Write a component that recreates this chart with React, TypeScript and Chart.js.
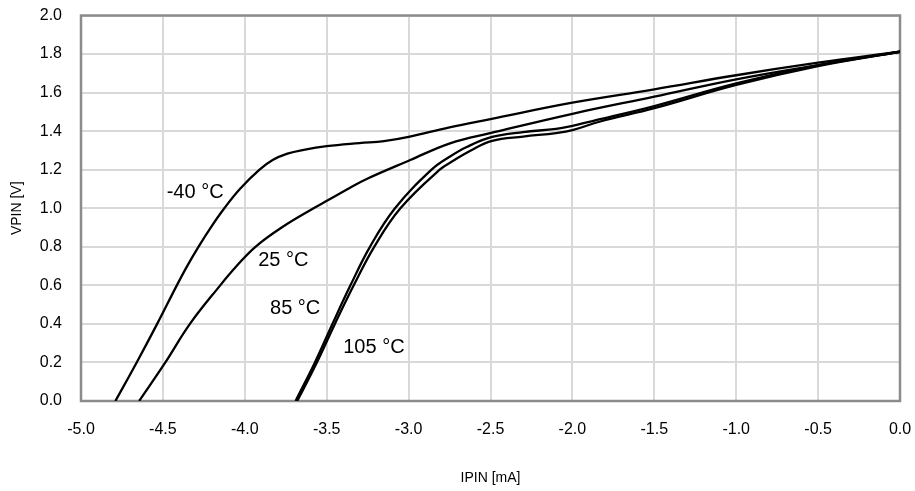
import React, { useEffect, useRef } from "react";
import { Chart, registerables } from "chart.js";

Chart.register(...registerables);

// Series names (temperatures)
const seriesNames = ["-40 °C", "25 °C", "85 °C", "105 °C"];

// IPIN [mA] / VPIN [V] per temperature
const ipinM40 = [-4.79, -4.66, -4.535, -4.415, -4.352, -4.283, -4.208, -4.125, -4.03, -3.91, -3.83, -3.74, -3.64, -3.5, -3.3, -3.15, -3.0, -2.75, -2.5, -2.0, -1.5, -1.0, -0.5, 0.0];
const vpinM40 = [0.0, 0.2, 0.4, 0.6, 0.7, 0.8, 0.9, 1.0, 1.1, 1.2, 1.25, 1.283, 1.303, 1.322, 1.338, 1.348, 1.37, 1.42, 1.463, 1.548, 1.617, 1.69, 1.755, 1.812];

const ipin25 = [-4.645, -4.485, -4.335, -4.15, -4.05, -3.935, -3.775, -3.58, -3.496, -3.36, -3.256, -2.99, -2.747, -2.49, -2.0, -1.5, -1.0, -0.5, 0.0];
const vpin25 = [0.0, 0.2, 0.4, 0.6, 0.7, 0.8, 0.9, 1.0, 1.04, 1.105, 1.152, 1.25, 1.337, 1.392, 1.49, 1.579, 1.669, 1.743, 1.812];

const ipin85 = [-3.69, -3.572, -3.465, -3.355, -3.236, -3.083, -2.86, -2.75, -2.645, -2.49, -2.3, -2.1, -2.0, -1.83, -1.5, -1.0, -0.5, 0.0];
const vpin85 = [0.0, 0.2, 0.4, 0.6, 0.8, 1.0, 1.2, 1.267, 1.318, 1.37, 1.395, 1.412, 1.428, 1.462, 1.53, 1.648, 1.742, 1.812];

const ipin105 = [-3.68, -3.56, -3.45, -3.335, -3.21, -3.05, -2.81, -2.72, -2.62, -2.49, -2.3, -2.1, -2.0, -1.83, -1.5, -1.0, -0.5, 0.0];
const vpin105 = [0.0, 0.2, 0.4, 0.6, 0.8, 1.0, 1.2, 1.25, 1.3, 1.35, 1.372, 1.39, 1.405, 1.45, 1.519, 1.64, 1.738, 1.812];

// Axis ranges / ticks
const xMin = -5.0;
const xMax = 0.0;
const xStep = 0.5;
const yMin = 0.0;
const yMax = 2.0;
const yStep = 0.2;

const xTitle = "IPIN [mA]";
const yTitle = "VPIN [V]";

// Where each curve's annotation text is anchored (data coordinates, left-middle of text)
const labelAnchors = [
  { x: -4.477, y: 1.081 },
  { x: -3.918, y: 0.728 },
  { x: -3.846, y: 0.481 },
  { x: -3.399, y: 0.279 },
];

const FONT = "'Liberation Sans', Arial, Helvetica, sans-serif";

const toPoints = (xs: number[], ys: number[]) => xs.map((x, i) => ({ x, y: ys[i] }));

const boxPlugin = {
  id: "plotBox",
  beforeDatasetsDraw(chart: any) {
    const { ctx, chartArea } = chart;
    ctx.save();
    ctx.strokeStyle = "#8c8c8c";
    ctx.lineWidth = 2.5;
    ctx.strokeRect(chartArea.left, chartArea.top, chartArea.right - chartArea.left, chartArea.bottom - chartArea.top);
    ctx.restore();
  },
};

const labelPlugin = {
  id: "curveLabels",
  afterDatasetsDraw(chart: any) {
    const { ctx, scales } = chart;
    ctx.save();
    ctx.font = `20px ${FONT}`;
    ctx.fillStyle = "#000";
    ctx.textAlign = "left";
    ctx.textBaseline = "middle";
    seriesNames.forEach((name, i) => {
      const a = labelAnchors[i];
      ctx.fillText(name, scales.x.getPixelForValue(a.x), scales.y.getPixelForValue(a.y));
    });
    ctx.restore();
  },
};

const zeroPad = (s: any) => {
  s.paddingTop = 0;
  s.paddingBottom = 0;
  s.paddingLeft = 0;
  s.paddingRight = 0;
};

export default function App() {
  const ref = useRef<HTMLCanvasElement>(null);

  useEffect(() => {
    const series = [
      toPoints(ipinM40, vpinM40),
      toPoints(ipin25, vpin25),
      toPoints(ipin85, vpin85),
      toPoints(ipin105, vpin105),
    ];
    const chart = new Chart(ref.current as HTMLCanvasElement, {
      type: "scatter",
      data: {
        datasets: series.map((data, i) => ({
          label: seriesNames[i],
          data,
          showLine: true,
          borderColor: "#000",
          backgroundColor: "#000",
          borderWidth: 2.3,
          pointRadius: 0,
          pointHoverRadius: 0,
          tension: 0.4,
        })),
      },
      options: {
        animation: false,
        responsive: false,
        devicePixelRatio: 1,
        layout: { padding: { top: 15.5, right: 15, bottom: 0, left: 0 } },
        plugins: {
          legend: { display: false },
          tooltip: { enabled: false },
        },
        scales: {
          x: {
            type: "linear",
            min: xMin,
            max: xMax,
            afterFit: (s: any) => {
              s.height = 90;
              zeroPad(s);
            },
            ticks: {
              stepSize: xStep,
              padding: 19,
              color: "#000",
              font: { family: FONT, size: 16 },
              callback: (v: any) => Number(v).toFixed(1),
            },
            grid: { color: "#d9d9d9", lineWidth: 2, drawTicks: false },
            border: { display: false },
            title: {
              display: true,
              text: xTitle,
              color: "#000",
              font: { family: FONT, size: 14 },
              padding: { top: 0, bottom: 4.3 },
            },
          },
          y: {
            type: "linear",
            min: yMin,
            max: yMax,
            afterFit: (s: any) => {
              s.width = 81;
              zeroPad(s);
            },
            ticks: {
              stepSize: yStep,
              padding: 19,
              color: "#000",
              font: { family: FONT, size: 16 },
              callback: (v: any) => Number(v).toFixed(1),
            },
            grid: { color: "#d9d9d9", lineWidth: 2, drawTicks: false },
            border: { display: false },
            title: {
              display: true,
              text: yTitle,
              color: "#000",
              font: { family: FONT, size: 14 },
              padding: { top: 8.6, bottom: 0 },
            },
          },
        },
      },
      plugins: [boxPlugin, labelPlugin],
    });
    return () => chart.destroy();
  }, []);

  return (
    <div style={{ position: "absolute", left: 0, top: 0, width: 915, height: 491, background: "#fff" }}>
      <canvas ref={ref} width={915} height={491} style={{ display: "block" }} />
    </div>
  );
}
